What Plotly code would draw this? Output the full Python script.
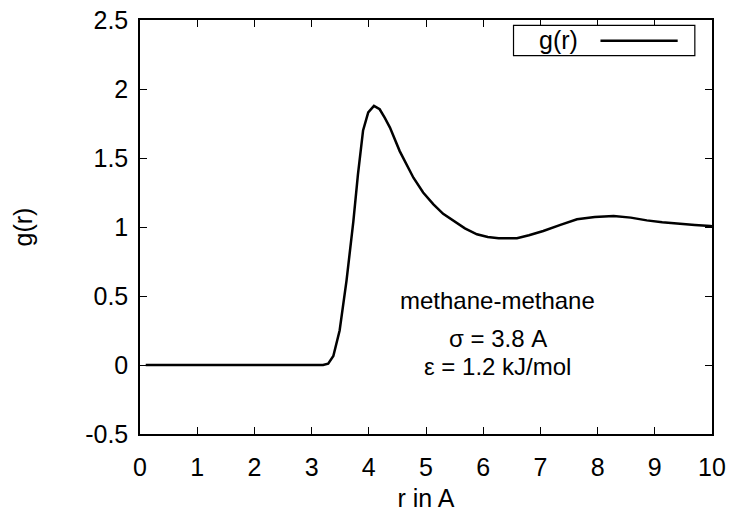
import plotly.graph_objects as go

r_vals = [0.1, 0.5, 1.0, 1.5, 2.0, 2.5, 3.0, 3.2, 3.29, 3.38, 3.49, 3.61, 3.73, 3.81,
          3.90, 3.99, 4.09, 4.19, 4.28, 4.37, 4.54, 4.66, 4.78, 4.95, 5.13, 5.30, 5.48,
          5.68, 5.89, 6.08, 6.27, 6.45, 6.59, 6.80, 7.05, 7.35, 7.64, 7.95, 8.28, 8.58,
          8.86, 9.13, 9.39, 9.70, 9.97, 10.0]
g_vals = [0, 0, 0, 0, 0, 0, 0, 0.0, 0.01, 0.065, 0.25, 0.61, 1.04, 1.38,
          1.70, 1.83, 1.877, 1.853, 1.79, 1.72, 1.55, 1.45, 1.357, 1.25, 1.164, 1.095, 1.043,
          0.99, 0.947, 0.928, 0.918, 0.915, 0.918, 0.94, 0.971, 1.015, 1.056, 1.073, 1.08, 1.068,
          1.048, 1.035, 1.024, 1.015, 1.007, 1.005]

x_ticks = list(range(0, 11))
y_ticks = [-0.5, 0, 0.5, 1, 1.5, 2, 2.5]
y_tick_text = ["-0.5", "0", "0.5", "1", "1.5", "2", "2.5"]

legend_label = "g(r)"
notes = ["methane-methane", "σ = 3.8 A", "ε = 1.2 kJ/mol"]
note_y = [0.47, 0.195, -0.01]

FONT = "Liberation Sans, Arial, sans-serif"
FS = 25

fig = go.Figure()
fig.add_trace(go.Scatter(x=r_vals, y=g_vals, mode="lines",
                         line=dict(color="black", width=2.5),
                         name=legend_label, showlegend=False))

axis_common = dict(showgrid=False, zeroline=False, showline=True, linecolor="black",
                   linewidth=1.5, mirror="allticks", ticks="inside", ticklen=7,
                   tickwidth=1, tickcolor="black", automargin=False,
                   tickfont=dict(family=FONT, size=FS, color="black"))

fig.update_xaxes(range=[0, 10], tickvals=x_ticks, ticklabelstandoff=10,
                 title=dict(text="r in A", font=dict(family=FONT, size=FS, color="black"),
                            standoff=10),
                 **axis_common)
fig.update_yaxes(range=[-0.5, 2.5], tickvals=y_ticks, ticktext=y_tick_text,
                 ticklabelstandoff=5,
                 title=dict(text="g(r)", font=dict(family=FONT, size=FS, color="black"),
                            standoff=45),
                 **axis_common)

# gnuplot-style key (text left, sample right)
fig.add_shape(type="rect", xref="paper", yref="paper", x0=0.653, x1=0.970,
              y0=0.914, y1=0.987, line=dict(color="black", width=1.2),
              fillcolor="white")
fig.add_shape(type="line", xref="paper", yref="paper", x0=0.805, x1=0.940,
              y0=0.950, y1=0.950, line=dict(color="black", width=2.5))
fig.add_annotation(xref="paper", yref="paper", x=0.731, y=0.951, text=legend_label,
                   showarrow=False, xanchor="center", yanchor="middle",
                   font=dict(family=FONT, size=FS, color="black"))

for txt, yv in zip(notes, note_y):
    fig.add_annotation(x=6.25, y=yv, text=txt, showarrow=False, xanchor="center",
                       yanchor="middle", font=dict(family=FONT, size=24, color="black"))

fig.update_layout(width=733, height=518, plot_bgcolor="white", paper_bgcolor="white",
                  margin=dict(l=140, r=21, t=20, b=84), showlegend=False,
                  font=dict(family=FONT, size=FS, color="black"))

fig.write_html("out.html")
